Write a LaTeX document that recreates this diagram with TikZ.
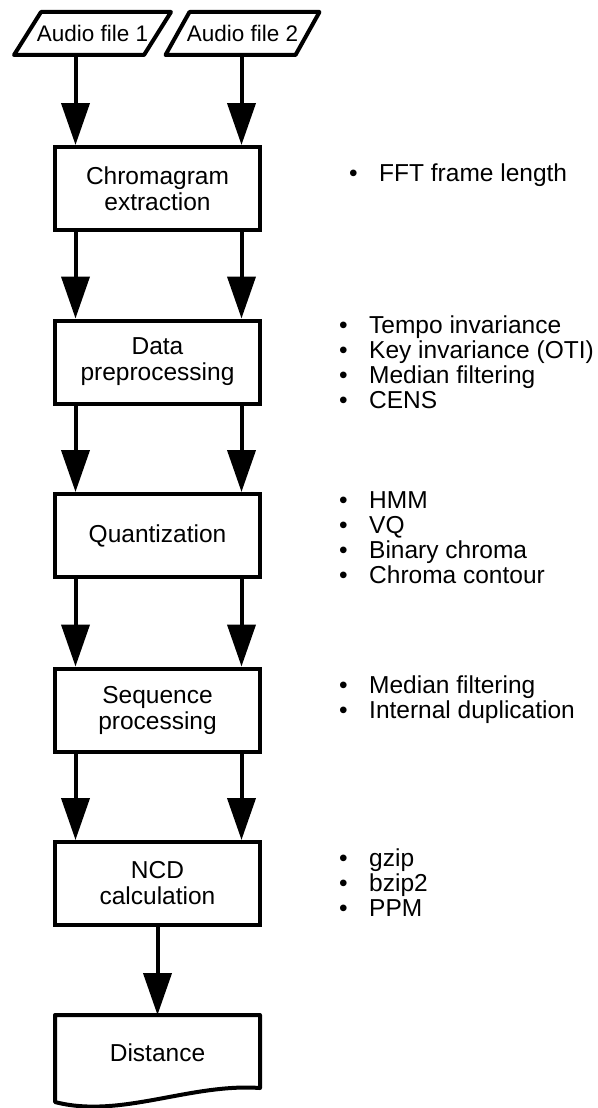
\documentclass[tikz,border=0pt]{standalone}
\usepackage{fontspec}
\setmainfont{Liberation Sans}
\usetikzlibrary{arrows.meta}
\tikzset{
	procbox/.style={draw, line width=4pt, minimum width=205pt, minimum height=83pt, align=center, inner sep=0pt, font=\fontsize{24.5}{26}\selectfont},
	inbox/.style={minimum width=130pt, minimum height=43pt, inner sep=0pt, outer sep=0pt, font=\fontsize{22.5}{24}\selectfont},
	outline/.style={line width=4pt, line join=round},
	flow/.style={line width=4pt, -{Triangle[length=42pt,width=28pt]}},
	notes/.style={anchor=west, align=left, inner sep=0pt, font=\fontsize{24.5}{25}\selectfont},
}
\newcommand{\bul}[1]{\makebox[30pt][l]{•}#1}
\begin{document}
\begin{tikzpicture}[x=1pt,y=-1pt]
		\useasboundingbox (0,0) rectangle (597,1108);
		\node[inbox] (in1) at (92.5,33.5) {Audio file 1};
		\node[inbox] (in2) at (242.5,33.5) {Audio file 2};
		\draw[outline] ([xshift=13.5pt]in1.north west) -- ([xshift=13.5pt]in1.north east) -- ([xshift=-13.5pt]in1.south east) -- ([xshift=-13.5pt]in1.south west) -- cycle;
		\draw[outline] ([xshift=12pt]in2.north west) -- ([xshift=12pt]in2.north east) -- ([xshift=-12pt]in2.south east) -- ([xshift=-12pt]in2.south west) -- cycle;
		\node[procbox] (chroma) at (157.5,188.5) {Chromagram\\extraction};
		\node[procbox] (data) at (157.5,362) {Data\\preprocessing};
		\node[procbox] (quant) at (157.5,535.5) {Quantization};
		\node[procbox] (seq) at (157.5,710) {Sequence\\processing};
		\node[procbox] (ncd) at (157.5,883.5) {NCD\\calculation};
		\node[procbox, draw=none, outer sep=0pt, minimum height=76pt] (dist) at (157.5,1053) {Distance};
		% document shape with wavy bottom
		\draw[outline] (dist.north west) -- (dist.north east) -- ([yshift=-35pt]dist.east) .. controls ([xshift=-70pt,yshift=-30pt]dist.east) and ([xshift=65pt,yshift=-66pt]dist.west) .. ([yshift=-49pt]dist.west) -- cycle;
		% arrows
		\coordinate (c1l) at ([xshift=-82pt]chroma.north);
		\coordinate (c1r) at ([xshift=84pt]chroma.north);
		\draw[flow] (in1.south -| c1l) -- (c1l);
		\draw[flow] (in2.south -| c1r) -- (c1r);
		\draw[flow] ([xshift=-82pt]chroma.south) -- ([xshift=-82pt]data.north);
		\draw[flow] ([xshift=84pt]chroma.south) -- ([xshift=84pt]data.north);
		\draw[flow] ([xshift=-82pt]data.south) -- ([xshift=-82pt]quant.north);
		\draw[flow] ([xshift=84pt]data.south) -- ([xshift=84pt]quant.north);
		\draw[flow] ([xshift=-82pt]quant.south) -- ([xshift=-82pt]seq.north);
		\draw[flow] ([xshift=84pt]quant.south) -- ([xshift=84pt]seq.north);
		\draw[flow] ([xshift=-82pt]seq.south) -- ([xshift=-82pt]ncd.north);
		\draw[flow] ([xshift=84pt]seq.south) -- ([xshift=84pt]ncd.north);
		\draw[flow] (ncd.south) -- (dist.north);
		% options
		\node[notes] (n1) at (349,175) {\bul{FFT frame length}};
		\node[notes] (n2) at (339,362.5) {\bul{Tempo invariance}\\\bul{Key invariance (OTI)}\\\bul{Median filtering}\\\bul{CENS}};
		\node[notes] (n3) at (339,538) {\bul{HMM}\\\bul{VQ}\\\bul{Binary chroma}\\\bul{Chroma contour}};
		\node[notes] (n4) at (339,700) {\bul{Median filtering}\\\bul{Internal duplication}};
		\node[notes] (n5) at (339,882.5) {\bul{gzip}\\\bul{bzip2}\\\bul{PPM}};
	\end{tikzpicture}
\end{document}
